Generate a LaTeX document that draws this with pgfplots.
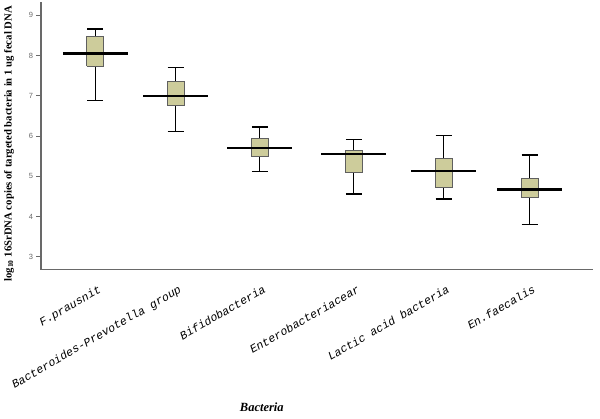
\documentclass[border=0pt]{standalone}
\usepackage{fontspec}
\setmainfont{Liberation Serif}
\newfontfamily\tickfont{Liberation Sans}
\newfontfamily\monofont{Liberation Mono}
\usepackage{pgfplots}
\pgfplotsset{compat=1.18}
\definecolor{boxfill}{RGB}{205,204,155}
\definecolor{boxedge}{RGB}{95,95,95}
\definecolor{axisgray}{RGB}{105,105,105}
% position, lower whisker, Q1, median, Q3, upper whisker
\newcommand{\bx}[6]{%
  \addplot[black, line width=1.3pt, unbounded coords=jump] coordinates {
    (#1,#2) (#1,#3) (nan,nan) (#1,#5) (#1,#6) (nan,nan)
    (#1-8,#2) (#1+8,#2) (nan,nan) (#1-8,#6) (#1+8,#6)};
  \addplot[draw=boxedge, fill=boxfill, line width=1pt] coordinates {
    (#1-8.5,#3) (#1+8.5,#3) (#1+8.5,#5) (#1-8.5,#5) (#1-8.5,#3)};
  \addplot[black, line width=2.1pt] coordinates {(#1-32.5,#4) (#1+32.5,#4)};
}
\begin{document}
\begin{tikzpicture}
\useasboundingbox (0,0) rectangle (600pt,418pt);
\begin{axis}[
  at={(41pt,148.3pt)}, anchor=south west,
  scale only axis, width=552pt, height=267.7pt,
  xmin=41, xmax=593, ymin=2.676, ymax=9.33,
  axis x line*=bottom, axis y line*=left,
  axis line style={axisgray, line width=1.1pt},
  ytick={3,4,5,6,7,8,9},
  tick align=outside,
  major tick length=4.5pt,
  ytick style={axisgray, line width=0.8pt},
  xtick={95.3,175.5,259.8,353.8,443.7,529.5},
  xticklabels={F.prausnit,Bacteroides-Prevotella group,Bifidobacteria,Enterobacteriacear,Lactic acid bacteria,En.faecalis},
  xtick style={draw=none},
  /pgf/number format/assume math mode=true,
  yticklabel style={font=\tickfont\fontsize{7.5}{8}\selectfont, text=axisgray},
  xticklabel style={font=\monofont\itshape\fontsize{11.5}{12}\selectfont, rotate=30, anchor=north east, inner sep=0pt, yshift=-10pt, xshift=-3pt},
  ylabel={log\textsubscript{10} 16SrDNA copies of targeted bacteria in 1 ug fecal DNA},
  ylabel style={at={(axis description cs:-0.058,0.47)}, anchor=center, font=\bfseries\fontsize{10.7}{11}\selectfont},
  xlabel={Bacteria},
  xlabel style={at={(axis description cs:0.40,0)}, anchor=center, yshift=-138pt, font=\bfseries\itshape\fontsize{12.5}{13}\selectfont},
  clip=false,
]
\bx{95.3}{6.89}{7.73}{8.05}{8.47}{8.66}
\bx{175.5}{6.11}{6.75}{7.00}{7.35}{7.70}
\bx{259.8}{5.11}{5.48}{5.70}{5.93}{6.22}
\bx{353.8}{4.56}{5.09}{5.55}{5.63}{5.91}
\bx{443.7}{4.43}{4.72}{5.13}{5.44}{6.02}
\bx{529.5}{3.80}{4.48}{4.67}{4.94}{5.53}
\end{axis}
\end{tikzpicture}
\end{document}
